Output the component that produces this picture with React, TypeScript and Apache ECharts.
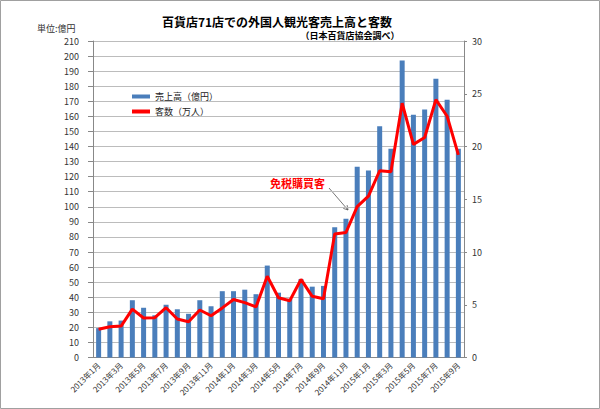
import React, { useEffect, useRef } from "react";
import * as echarts from "echarts";

const months: string[] = [
  "2013年1月", "2013年2月", "2013年3月", "2013年4月", "2013年5月", "2013年6月",
  "2013年7月", "2013年8月", "2013年9月", "2013年10月", "2013年11月", "2013年12月",
  "2014年1月", "2014年2月", "2014年3月", "2014年4月", "2014年5月", "2014年6月",
  "2014年7月", "2014年8月", "2014年9月", "2014年10月", "2014年11月", "2014年12月",
  "2015年1月", "2015年2月", "2015年3月", "2015年4月", "2015年5月", "2015年6月",
  "2015年7月", "2015年8月", "2015年9月",
];

// 売上高（億円）
const sales: number[] = [
  19.5, 24, 24.5, 38, 33, 28, 35, 32, 29, 38, 34, 44,
  44, 45, 42, 61, 43, 39, 52, 47, 47.5, 86.5, 92, 126.5,
  124, 153.5, 138.5, 197, 161, 164.5, 185, 171, 138.5,
];

// 客数（万人）
const visitors: number[] = [
  2.67, 2.92, 2.98, 4.59, 3.74, 3.77, 4.72, 3.65, 3.39, 4.5, 3.96, 4.7,
  5.5, 5.2, 4.8, 7.7, 5.66, 5.38, 7.4, 5.8, 5.57, 11.7, 11.85, 14.3,
  15.3, 17.7, 17.6, 24.1, 20.2, 20.85, 24.45, 22.87, 19.2,
];

const titleText = "百貨店71店での外国人観光客売上高と客数";
const subTitleText = "（日本百貨店協会調べ）";
const unitText = "単位:億円";
const noteText = "免税購買客";
const salesName = "売上高（億円）";
const visitorsName = "客数（万人）";

const FONT = "'Noto Sans CJK JP', 'Noto Sans', sans-serif";

export default function App() {
  const ref = useRef<HTMLDivElement>(null);
  useEffect(() => {
    if (!ref.current) return;
    const chart = echarts.init(ref.current, undefined, { renderer: "svg" });
    chart.setOption({
      animation: false,
      backgroundColor: "#ffffff",
      textStyle: { fontFamily: FONT },
      grid: { left: 93, right: 136, top: 41, bottom: 51.5, containLabel: false },
      legend: {
        orient: "vertical",
        left: 127,
        top: 87,
        itemWidth: 18,
        itemHeight: 4,
        itemGap: 6,
        textStyle: { fontSize: 9, color: "#222", fontFamily: FONT },
        data: [
          { name: salesName, icon: "rect" },
          { name: visitorsName, icon: "rect" },
        ],
      },
      xAxis: {
        type: "category",
        data: months,
        boundaryGap: true,
        axisLine: { lineStyle: { color: "#888" } },
        axisTick: { interval: 1, length: 4, lineStyle: { color: "#888" } },
        axisLabel: {
          interval: 1,
          rotate: 45,
          fontSize: 8,
          color: "#333",
          margin: 6,
          fontFamily: FONT,
        },
      },
      yAxis: [
        {
          type: "value",
          min: 0,
          max: 210,
          interval: 10,
          axisLine: { show: true, lineStyle: { color: "#888" } },
          axisTick: { show: true, length: 5, lineStyle: { color: "#888" } },
          axisLabel: { fontSize: 9, color: "#333", margin: 14, fontFamily: FONT },
          splitLine: { lineStyle: { color: "#bcbcbc", width: 1 } },
        },
        {
          type: "value",
          min: 0,
          max: 30,
          interval: 5,
          position: "right",
          axisLine: { show: true, lineStyle: { color: "#888" } },
          axisTick: { show: true, length: 3, lineStyle: { color: "#888" } },
          axisLabel: { fontSize: 9, color: "#333", margin: 8, fontFamily: FONT },
          splitLine: { show: false },
        },
      ],
      series: [
        {
          name: salesName,
          type: "bar",
          data: sales,
          yAxisIndex: 0,
          barWidth: 5,
          itemStyle: { color: "#4a7ebb" },
        },
        {
          name: visitorsName,
          type: "line",
          data: visitors,
          yAxisIndex: 1,
          symbol: "none",
          lineStyle: { color: "#ff0000", width: 3 },
          itemStyle: { color: "#ff0000" },
        },
      ],
      graphic: [
        {
          type: "rect",
          shape: { x: 0.5, y: 0.5, width: 599, height: 408 },
          style: { fill: "none", stroke: "#a0a0a0", lineWidth: 1 },
          silent: true,
        },
        {
          type: "text",
          x: 277,
          y: 21,
          style: {
            text: titleText,
            fontSize: 12,
            fontWeight: "bold",
            fill: "#000",
            align: "center",
            verticalAlign: "middle",
            fontFamily: FONT,
          },
        },
        {
          type: "text",
          x: 350,
          y: 35,
          style: {
            text: subTitleText,
            fontSize: 9,
            fontWeight: "bold",
            fill: "#000",
            align: "center",
            verticalAlign: "middle",
            fontFamily: FONT,
          },
        },
        {
          type: "text",
          x: 37,
          y: 28,
          style: {
            text: unitText,
            fontSize: 9,
            fill: "#333",
            align: "left",
            verticalAlign: "middle",
            fontFamily: FONT,
          },
        },
        {
          type: "text",
          x: 270,
          y: 183,
          style: {
            text: noteText,
            fontSize: 11,
            fontWeight: "bold",
            fill: "#ff0000",
            align: "left",
            verticalAlign: "middle",
            fontFamily: FONT,
          },
        },
        {
          type: "line",
          shape: { x1: 329, y1: 188, x2: 348, y2: 210 },
          style: { stroke: "#555", lineWidth: 0.8 },
        },
        {
          type: "polyline",
          shape: { points: [[347.1, 205.1], [348, 210], [343.3, 208.4]] },
          style: { stroke: "#555", lineWidth: 0.8, fill: "none" },
        },
      ],
    });
    return () => chart.dispose();
  }, []);
  return (
    <div
      ref={ref}
      style={{ position: "absolute", left: 0, top: 0, width: 600, height: 409 }}
    />
  );
}
